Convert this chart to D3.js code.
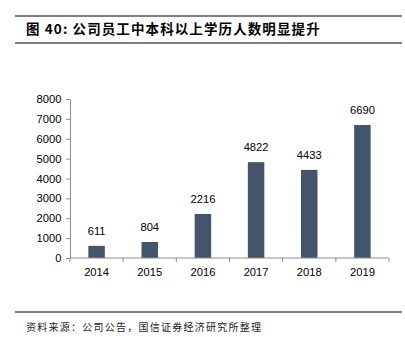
<!DOCTYPE html>
<html>
<head>
<meta charset="utf-8">
<script src="https://cdn.jsdelivr.net/npm/d3@7"></script>
<style>
  html, body { margin: 0; padding: 0; background: #fff; }
  svg { display: block; }
</style>
</head>
<body>
<svg id="chart" width="405" height="337"></svg>
<script>
// Staff with bachelor's degree or above, by year
const years = ["2014", "2015", "2016", "2017", "2018", "2019"];
const staff = [611, 804, 2216, 4822, 4433, 6690];
const yTicks = [0, 1000, 2000, 3000, 4000, 5000, 6000, 7000, 8000];

const titleText = "图 40:  公司员工中本科以上学历人数明显提升";
const sourceText = "资料来源：公司公告，国信证券经济研究所整理";

const svg = d3.select("#chart");
const cjk = "'Noto Sans CJK SC', 'Noto Sans', sans-serif";
const latin = "'Liberation Sans', Arial, sans-serif";

// Header rules and title
svg.append("line").attr("x1", 15).attr("x2", 402).attr("y1", 16).attr("y2", 16)
  .attr("stroke", "#000").attr("stroke-width", 1);
svg.append("line").attr("x1", 15).attr("x2", 402).attr("y1", 43).attr("y2", 43)
  .attr("stroke", "#000").attr("stroke-width", 1.2);
svg.append("text").attr("x", 26).attr("y", 34)
  .attr("font-family", cjk).attr("font-weight", "bold").attr("font-size", 13.5)
  .attr("letter-spacing", 1.1)
  .attr("fill", "#000").text(titleText);

// Footer rule and source
svg.append("line").attr("x1", 15).attr("x2", 402).attr("y1", 312).attr("y2", 312)
  .attr("stroke", "#000").attr("stroke-width", 1);
svg.append("text").attr("x", 26).attr("y", 331)
  .attr("font-family", cjk).attr("font-size", 10)
  .attr("letter-spacing", 1.25)
  .attr("fill", "#222").text(sourceText);

// Plot area
const plot = { left: 70, right: 389, top: 99, bottom: 258 };
const x = d3.scaleBand().domain(years).range([plot.left, plot.right]).paddingInner(0.69).paddingOuter(0.345);
const y = d3.scaleLinear().domain([0, 8000]).range([plot.bottom, plot.top]);

const axisColor = "#8c8c8c";

// Bars
svg.append("g").selectAll("rect").data(years).join("rect")
  .attr("x", d => x(d))
  .attr("y", (d, i) => y(staff[i]))
  .attr("width", x.bandwidth())
  .attr("height", (d, i) => plot.bottom - y(staff[i]))
  .attr("fill", "#44546a");

// Value labels
svg.append("g").selectAll("text").data(years).join("text")
  .attr("x", d => x(d) + x.bandwidth() / 2)
  .attr("y", (d, i) => y(staff[i]) - 11)
  .attr("text-anchor", "middle")
  .attr("font-family", latin).attr("font-size", 11.2).attr("fill", "#000")
  .text((d, i) => staff[i]);

// Y axis
const yAxis = svg.append("g").attr("transform", `translate(${plot.left},0)`)
  .call(d3.axisLeft(y).tickValues(yTicks).tickSize(4).tickSizeOuter(0).tickPadding(4.5).tickFormat(d3.format("d")));
yAxis.select(".domain").attr("stroke", axisColor);
yAxis.selectAll(".tick line").attr("stroke", axisColor);
yAxis.selectAll(".tick text").attr("font-family", latin).attr("font-size", 11.2).attr("fill", "#000");

// X axis with boundary ticks between categories
const xg = svg.append("g").attr("transform", `translate(0,${plot.bottom})`);
xg.append("line").attr("x1", plot.left).attr("x2", plot.right).attr("y1", 0).attr("y2", 0).attr("stroke", axisColor);
const step = (plot.right - plot.left) / years.length;
xg.selectAll("line.b").data(d3.range(years.length + 1)).join("line").attr("class", "b")
  .attr("x1", i => plot.left + i * step).attr("x2", i => plot.left + i * step)
  .attr("y1", 0).attr("y2", 4).attr("stroke", axisColor);
xg.selectAll("text").data(years).join("text")
  .attr("x", d => x(d) + x.bandwidth() / 2)
  .attr("y", 17.5)
  .attr("text-anchor", "middle")
  .attr("font-family", latin).attr("font-size", 11.2).attr("fill", "#000")
  .text(d => d);
</script>
</body>
</html>
